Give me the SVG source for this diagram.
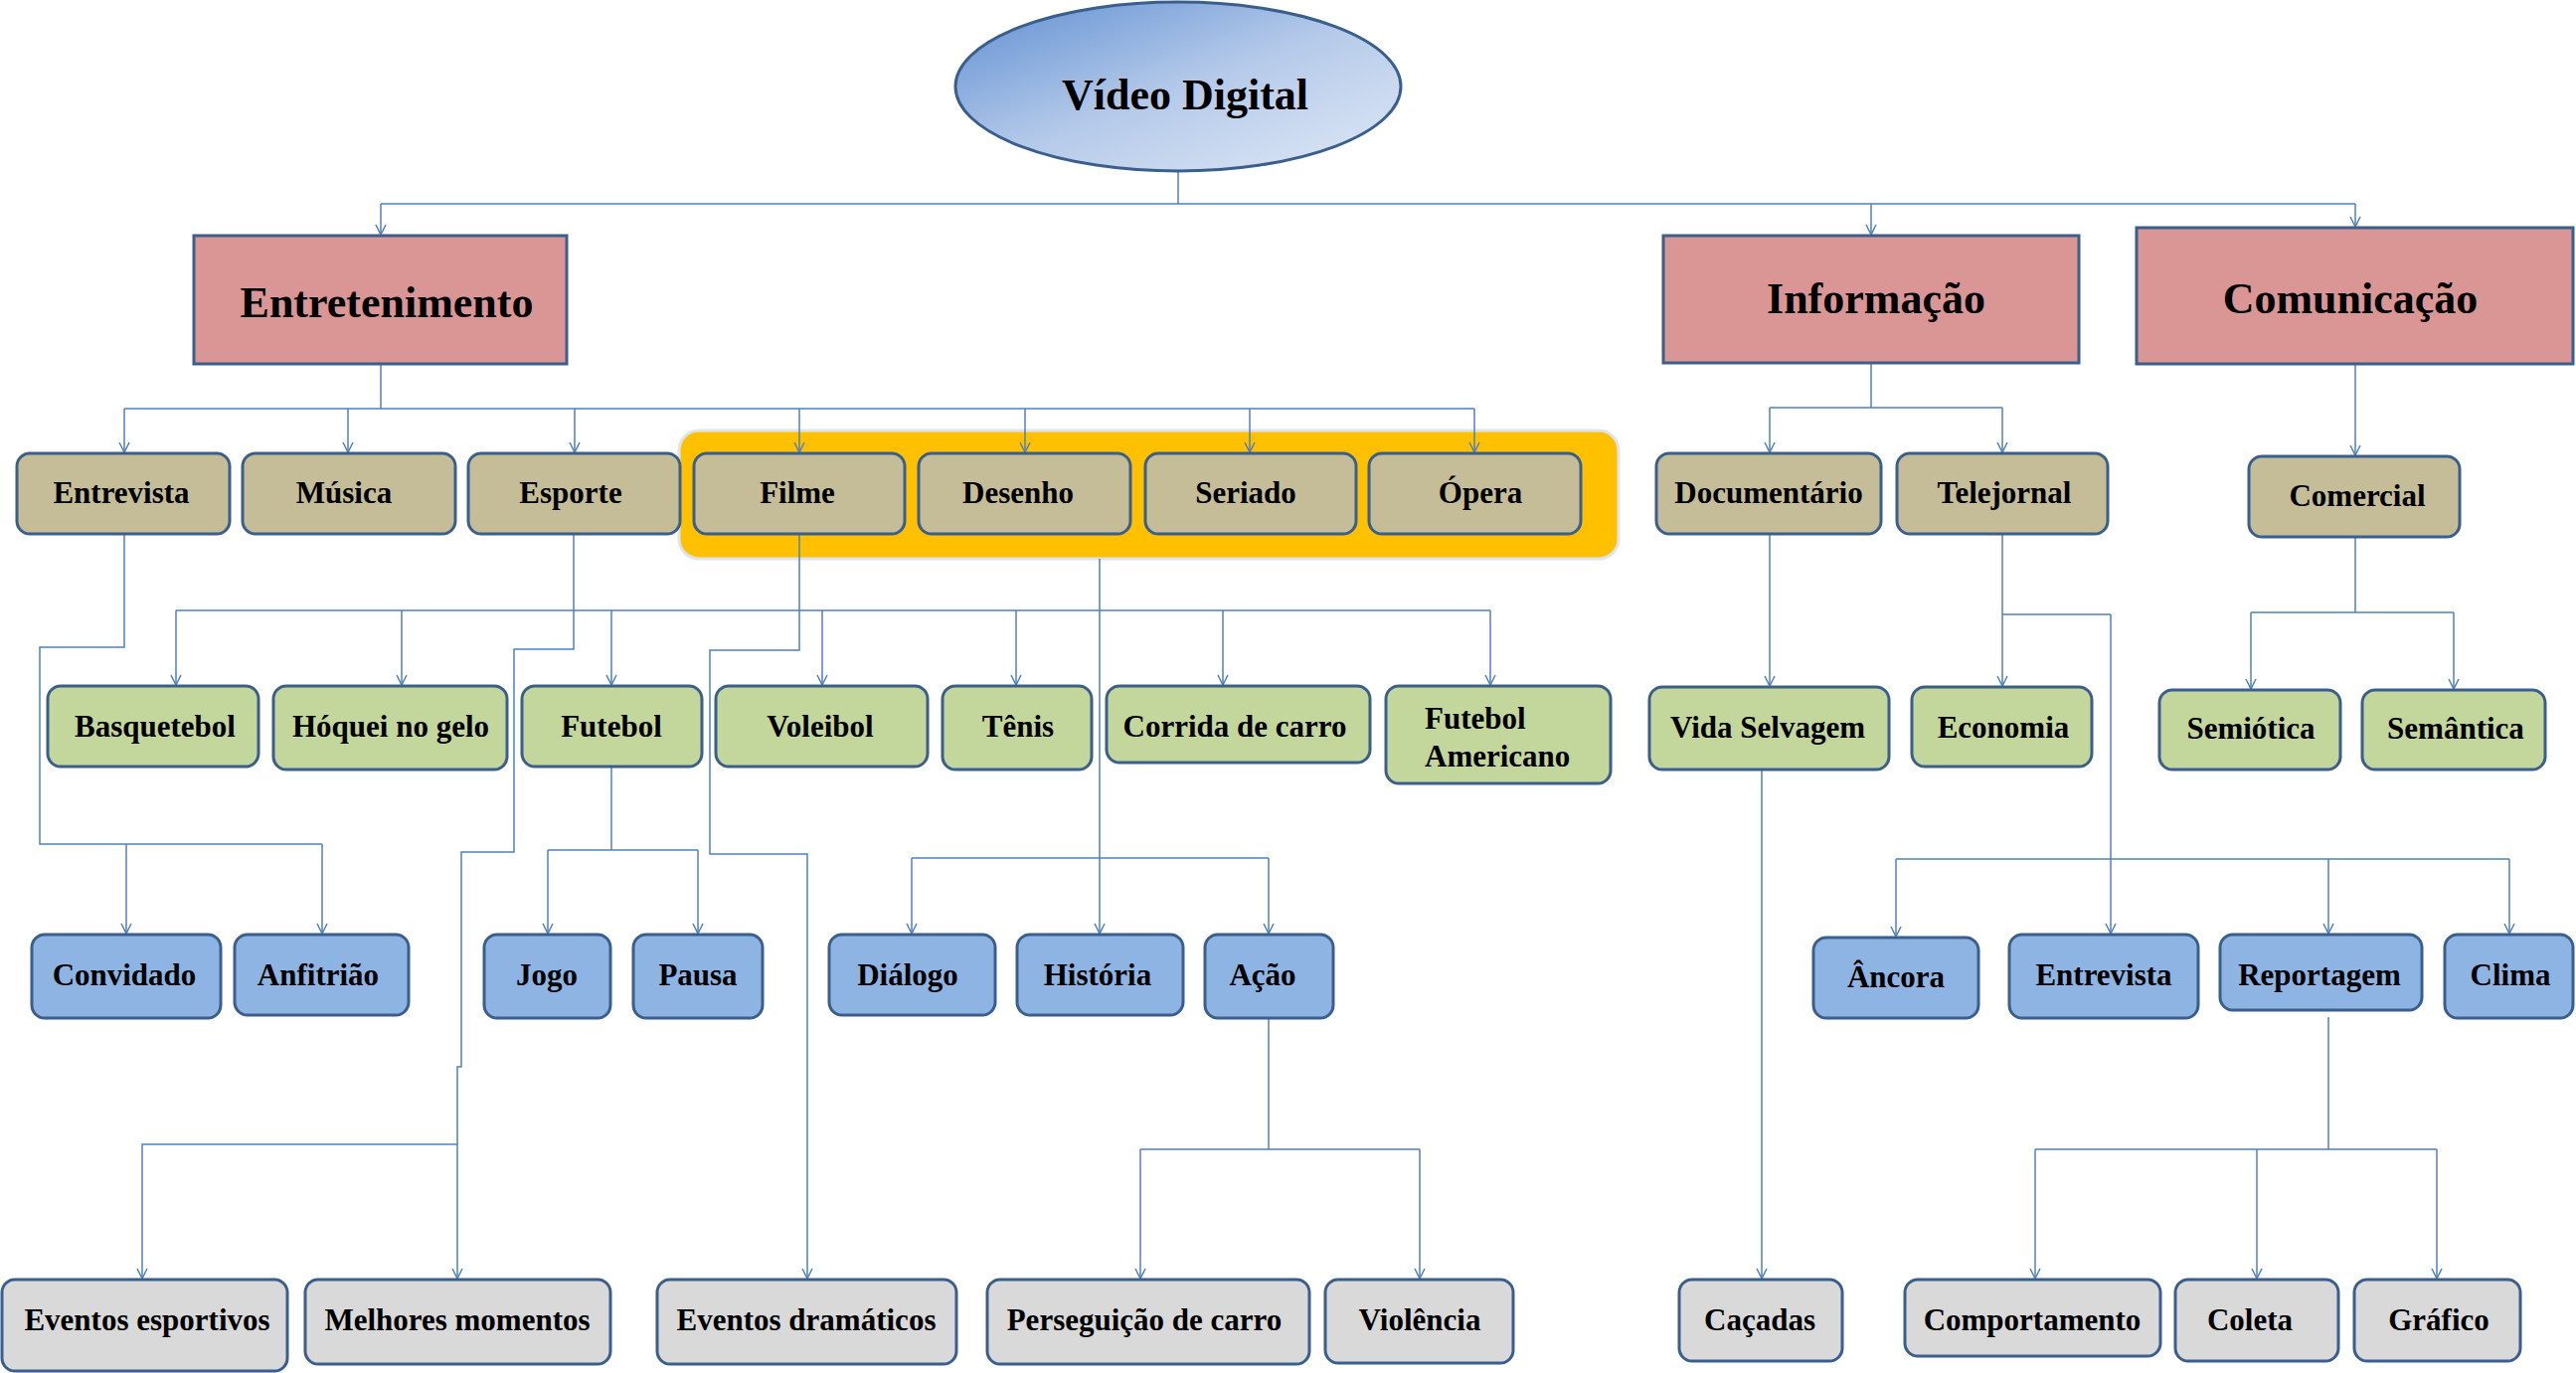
<svg xmlns="http://www.w3.org/2000/svg" width="2591" height="1381" viewBox="0 0 2591 1381">
<style>
.t{font-family:"Liberation Serif","Times New Roman",serif;font-weight:bold;fill:#000;text-anchor:middle}
.s{font-size:31px}
.b{font-size:44px}
.n{stroke:#3b5f8c;stroke-width:3}
.tan{fill:#c4bd97}
.grn{fill:#c3d69b}
.blu{fill:#8eb4e3}
.gry{fill:#d9d9d9}
.red{fill:#d99694}
.c{fill:none;stroke:#4f81bd;stroke-width:1.5}
.a{fill:none;stroke:#4f81bd;stroke-width:1.5;marker-end:url(#ah)}
</style>
<defs>
<linearGradient id="eg" x1="0" y1="0" x2="1" y2="1">
<stop offset="0" stop-color="#5f8fd2"/>
<stop offset="0.5" stop-color="#b4c9e9"/>
<stop offset="1" stop-color="#e0e9f6"/>
</linearGradient>
<marker id="ah" markerUnits="userSpaceOnUse" markerWidth="14" markerHeight="14" viewBox="-12 -7 14 14" refX="0" refY="0" orient="auto">
<path d="M-10,-5 L0,0 L-10,5" fill="none" stroke="#4f81bd" stroke-width="1.5"/>
</marker>
</defs>
<rect width="2591" height="1381" fill="#fff"/>

<g id="group-yellow"><rect x="683" y="433" width="945" height="129" rx="20" fill="#ffc000" stroke="#dbe5f1" stroke-width="3"/></g>

<g id="connectors">
<path class="c" d="M1185,172 V205 M383,205 H2369"/>
<path class="a" d="M383,205 V236"/>
<path class="a" d="M1882,205 V236"/>
<path class="a" d="M2369,205 V228"/>
<path class="c" d="M383,366 V411 M125,411 H1483"/>
<path class="a" d="M125,411 V455"/>
<path class="a" d="M350,411 V455"/>
<path class="a" d="M578,411 V455"/>
<path class="a" d="M804,411 V455"/>
<path class="a" d="M1031,411 V455"/>
<path class="a" d="M1257,411 V455"/>
<path class="a" d="M1483,411 V455"/>
<path class="c" d="M125,537 V651 H40 V849 H324"/>
<path class="a" d="M127,849 V939"/>
<path class="a" d="M324,849 V939"/>
<path class="c" d="M577,537 V614 M177,614 H1499"/>
<path class="a" d="M177,614 V689"/>
<path class="a" d="M404,614 V689"/>
<path class="a" d="M615,614 V689"/>
<path class="a" d="M827,614 V689"/>
<path class="a" d="M1022,614 V689"/>
<path class="a" d="M1230,614 V689"/>
<path class="a" d="M1499,614 V689"/>
<path class="a" d="M577,614 V653 H517 V857 H464 V1073 H460 V1286"/>
<path class="a" d="M460,1151 H143 V1286"/>
<path class="a" d="M804,537 V654 H714 V859 H812 V1286"/>
<path class="c" d="M1106,562 V863 M917,863 H1276"/>
<path class="a" d="M917,863 V939"/>
<path class="a" d="M1106,863 V939"/>
<path class="a" d="M1276,863 V939"/>
<path class="c" d="M615,771 V855 M551,855 H702"/>
<path class="a" d="M551,855 V939"/>
<path class="a" d="M702,855 V939"/>
<path class="c" d="M1276,1024 V1156 M1147,1156 H1428"/>
<path class="a" d="M1147,1156 V1286"/>
<path class="a" d="M1428,1156 V1286"/>
<path class="c" d="M1882,365 V410 M1780,410 H2014"/>
<path class="a" d="M1780,410 V455"/>
<path class="a" d="M2014,410 V455"/>
<path class="a" d="M1780,537 V690"/>
<path class="a" d="M2014,537 V690"/>
<path class="c" d="M2014,618 H2123 M1907,864 H2524"/>
<path class="a" d="M2123,618 V939"/>
<path class="a" d="M1907,864 V942"/>
<path class="a" d="M2342,864 V939"/>
<path class="a" d="M2524,864 V939"/>
<path class="c" d="M2342,1023 V1156 M2047,1156 H2451"/>
<path class="a" d="M2047,1156 V1286"/>
<path class="a" d="M2270,1156 V1286"/>
<path class="a" d="M2451,1156 V1286"/>
<path class="a" d="M1772,774 V1286"/>
<path class="a" d="M2369,366 V458"/>
<path class="c" d="M2369,540 V616 M2264,616 H2468"/>
<path class="a" d="M2264,616 V693"/>
<path class="a" d="M2468,616 V693"/>
</g>

<g id="video-digital"><ellipse cx="1185" cy="87" rx="224" ry="85" fill="url(#eg)" class="n"/><text class="t b" x="1192" y="110">Vídeo Digital</text></g>

<g id="entretenimento"><rect class="n red" x="195" y="237" width="375" height="129"/><text class="t b" x="389" y="319">Entretenimento</text></g>
<g id="informacao"><rect class="n red" x="1673" y="237" width="418" height="128"/><text class="t b" x="1887" y="315">Informação</text></g>
<g id="comunicacao"><rect class="n red" x="2149" y="229" width="439" height="137"/><text class="t b" x="2364" y="315">Comunicação</text></g>

<g id="entrevista1"><rect class="n tan" x="17" y="456" width="214" height="81" rx="13"/><text class="t s" x="122" y="506">Entrevista</text></g>
<g id="musica"><rect class="n tan" x="244" y="456" width="214" height="81" rx="13"/><text class="t s" x="346" y="506">Música</text></g>
<g id="esporte"><rect class="n tan" x="471" y="456" width="213" height="81" rx="13"/><text class="t s" x="574" y="506">Esporte</text></g>
<g id="filme"><rect class="n tan" x="698" y="456" width="212" height="81" rx="13"/><text class="t s" x="802" y="506">Filme</text></g>
<g id="desenho"><rect class="n tan" x="924" y="456" width="213" height="81" rx="13"/><text class="t s" x="1024" y="506">Desenho</text></g>
<g id="seriado"><rect class="n tan" x="1152" y="456" width="212" height="81" rx="13"/><text class="t s" x="1253" y="506">Seriado</text></g>
<g id="opera"><rect class="n tan" x="1377" y="456" width="213" height="81" rx="13"/><text class="t s" x="1489" y="506">Ópera</text></g>
<g id="documentario"><rect class="n tan" x="1666" y="456" width="226" height="81" rx="13"/><text class="t s" x="1779" y="506">Documentário</text></g>
<g id="telejornal"><rect class="n tan" x="1908" y="456" width="212" height="81" rx="13"/><text class="t s" x="2016" y="506">Telejornal</text></g>
<g id="comercial"><rect class="n tan" x="2262" y="459" width="212" height="81" rx="13"/><text class="t s" x="2371" y="509">Comercial</text></g>

<g id="basquetebol"><rect class="n grn" x="48" y="690" width="212" height="81" rx="13"/><text class="t s" x="156" y="741">Basquetebol</text></g>
<g id="hoquei"><rect class="n grn" x="275" y="690" width="235" height="84" rx="13"/><text class="t s" x="393" y="741">Hóquei no gelo</text></g>
<g id="futebol"><rect class="n grn" x="525" y="690" width="181" height="81" rx="13"/><text class="t s" x="615" y="741">Futebol</text></g>
<g id="voleibol"><rect class="n grn" x="720" y="690" width="213" height="81" rx="13"/><text class="t s" x="825" y="741">Voleibol</text></g>
<g id="tenis"><rect class="n grn" x="948" y="690" width="150" height="84" rx="13"/><text class="t s" x="1024" y="741">Tênis</text></g>
<g id="corrida"><rect class="n grn" x="1113" y="690" width="265" height="77" rx="13"/><text class="t s" x="1242" y="741">Corrida de carro</text></g>
<g id="futebol-americano"><rect class="n grn" x="1394" y="690" width="226" height="98" rx="13"/><text class="t s" x="1433" y="733" style="text-anchor:start">Futebol</text><text class="t s" x="1433" y="771" style="text-anchor:start">Americano</text></g>
<g id="vida-selvagem"><rect class="n grn" x="1659" y="691" width="241" height="83" rx="13"/><text class="t s" x="1778" y="742">Vida Selvagem</text></g>
<g id="economia"><rect class="n grn" x="1923" y="691" width="181" height="80" rx="13"/><text class="t s" x="2015" y="742">Economia</text></g>
<g id="semiotica"><rect class="n grn" x="2172" y="694" width="182" height="80" rx="13"/><text class="t s" x="2264" y="743">Semiótica</text></g>
<g id="semantica"><rect class="n grn" x="2376" y="694" width="184" height="80" rx="13"/><text class="t s" x="2470" y="743">Semântica</text></g>

<g id="convidado"><rect class="n blu" x="32" y="940" width="190" height="84" rx="13"/><text class="t s" x="125" y="991">Convidado</text></g>
<g id="anfitriao"><rect class="n blu" x="236" y="940" width="175" height="81" rx="13"/><text class="t s" x="320" y="991">Anfitrião</text></g>
<g id="jogo"><rect class="n blu" x="487" y="940" width="127" height="84" rx="13"/><text class="t s" x="550" y="991">Jogo</text></g>
<g id="pausa"><rect class="n blu" x="637" y="940" width="130" height="84" rx="13"/><text class="t s" x="702" y="991">Pausa</text></g>
<g id="dialogo"><rect class="n blu" x="834" y="940" width="167" height="81" rx="13"/><text class="t s" x="913" y="991">Diálogo</text></g>
<g id="historia"><rect class="n blu" x="1023" y="940" width="167" height="81" rx="13"/><text class="t s" x="1104" y="991">História</text></g>
<g id="acao"><rect class="n blu" x="1212" y="940" width="129" height="84" rx="13"/><text class="t s" x="1270" y="991">Ação</text></g>
<g id="ancora"><rect class="n blu" x="1824" y="943" width="166" height="81" rx="13"/><text class="t s" x="1907" y="993">Âncora</text></g>
<g id="entrevista2"><rect class="n blu" x="2021" y="940" width="190" height="84" rx="13"/><text class="t s" x="2116" y="991">Entrevista</text></g>
<g id="reportagem"><rect class="n blu" x="2233" y="940" width="203" height="76" rx="13"/><text class="t s" x="2333" y="991">Reportagem</text></g>
<g id="clima"><rect class="n blu" x="2459" y="940" width="129" height="84" rx="13"/><text class="t s" x="2525" y="991">Clima</text></g>

<g id="eventos-esportivos"><rect class="n gry" x="2" y="1287" width="287" height="92" rx="13"/><text class="t s" x="148" y="1338">Eventos esportivos</text></g>
<g id="melhores-momentos"><rect class="n gry" x="307" y="1287" width="307" height="85" rx="13"/><text class="t s" x="460" y="1338">Melhores momentos</text></g>
<g id="eventos-dramaticos"><rect class="n gry" x="661" y="1287" width="301" height="85" rx="13"/><text class="t s" x="811" y="1338">Eventos dramáticos</text></g>
<g id="perseguicao"><rect class="n gry" x="993" y="1287" width="324" height="85" rx="13"/><text class="t s" x="1151" y="1338">Perseguição de carro</text></g>
<g id="violencia"><rect class="n gry" x="1333" y="1287" width="189" height="84" rx="13"/><text class="t s" x="1428" y="1338">Violência</text></g>
<g id="cacadas"><rect class="n gry" x="1689" y="1287" width="164" height="82" rx="13"/><text class="t s" x="1770" y="1338">Caçadas</text></g>
<g id="comportamento"><rect class="n gry" x="1916" y="1287" width="257" height="77" rx="13"/><text class="t s" x="2044" y="1338">Comportamento</text></g>
<g id="coleta"><rect class="n gry" x="2188" y="1287" width="164" height="82" rx="13"/><text class="t s" x="2263" y="1338">Coleta</text></g>
<g id="grafico"><rect class="n gry" x="2368" y="1287" width="167" height="82" rx="13"/><text class="t s" x="2453" y="1338">Gráfico</text></g>
</svg>
